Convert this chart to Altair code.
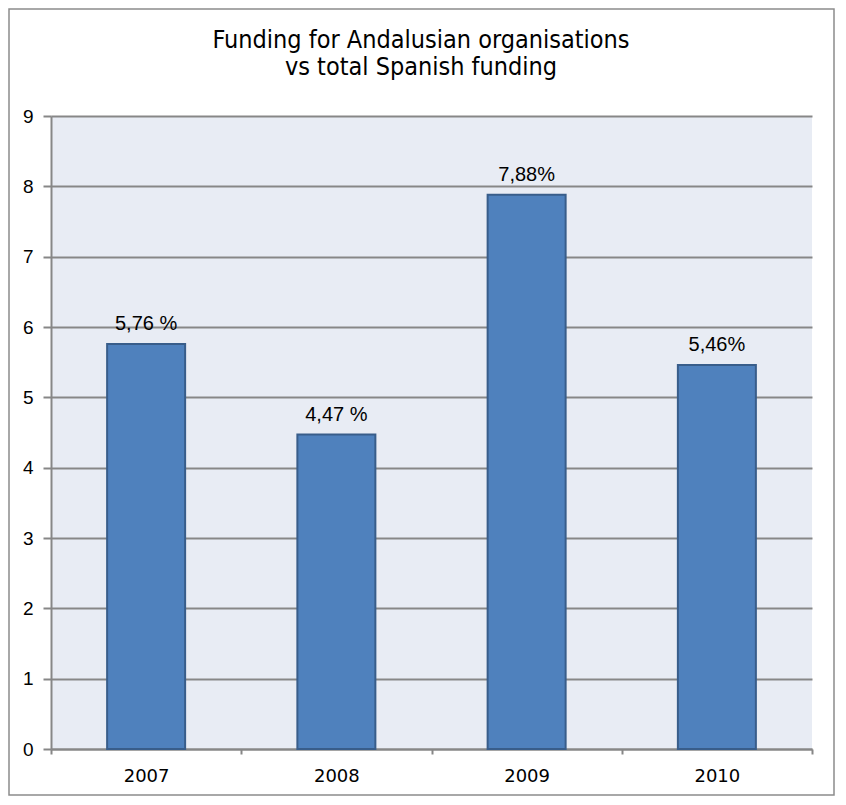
import altair as alt
import pandas as pd

years = ["2007", "2008", "2009", "2010"]
values = [5.76, 4.47, 7.88, 5.46]
labels = ["5,76 %", "4,47 %", "7,88%", "5,46%"]
y_ticks = [0, 1, 2, 3, 4, 5, 6, 7, 8, 9]
title_lines = ["Funding for Andalusian organisations", "vs total Spanish funding"]

df = pd.DataFrame({"year": years, "value": values, "label": labels})

W, H = 761, 633
GRAY = "#878787"
NARROW = "'DejaVu Sans Condensed', 'Liberation Sans Narrow', sans-serif"

x = alt.X(
    "year:N", title=None, sort=years,
    scale=alt.Scale(paddingInner=0, paddingOuter=0),
    axis=alt.Axis(tickBand="extent", labelAngle=0, labelFont="DejaVu Sans",
                  labelFontSize=18, labelColor="#000000", labelPadding=13,
                  tickSize=5, tickColor=GRAY, tickWidth=2,
                  domainColor=GRAY, domainWidth=2, grid=False),
)
y = alt.Y(
    "value:Q", title=None,
    scale=alt.Scale(domain=[0, 9], nice=False),
    axis=alt.Axis(values=y_ticks, format="d", grid=True, gridColor=GRAY, gridWidth=2,
                  tickSize=8, tickColor=GRAY, tickWidth=2,
                  domainColor=GRAY, domainWidth=2,
                  labelFont="Liberation Sans", labelFontSize=19, labelColor="#000000",
                  labelPadding=10),
)

one = pd.DataFrame({"a": [0]})

border = alt.Chart(one).mark_rect(
    fillOpacity=0, stroke="#8c8c8c", strokeWidth=1.5
).encode(x=alt.value(-42), x2=alt.value(W + 22), y=alt.value(-107), y2=alt.value(H + 46))

title1 = alt.Chart(one).mark_text(
    font=NARROW, fontSize=25, color="#000000", align="center", baseline="alphabetic"
).encode(x=alt.value(370), y=alt.value(-68), text=alt.value(title_lines[0]))

title2 = alt.Chart(one).mark_text(
    font=NARROW, fontSize=25, color="#000000", align="center", baseline="alphabetic"
).encode(x=alt.value(370), y=alt.value(-41), text=alt.value(title_lines[1]))

bars = alt.Chart(df).mark_bar(
    width=alt.RelativeBandSize(0.41), color="#4F81BD", stroke="#385D8A", strokeWidth=2
).encode(x=x, y=y)

text = alt.Chart(df).mark_text(
    baseline="alphabetic", dy=-14, font="Liberation Sans", fontSize=20, color="#000000"
).encode(x=alt.X("year:N", sort=years), y="value:Q", text="label:N")

chart = alt.layer(border, title1, title2, bars, text).properties(
    width=W, height=H,
    autosize=alt.AutoSizeParams(type="none"),
    padding={"left": 43, "top": 108, "right": 24, "bottom": 48},
).configure_view(fill="#E8ECF4", stroke=None)

chart.save("out.html", embed_options={"renderer": "svg", "actions": False})
